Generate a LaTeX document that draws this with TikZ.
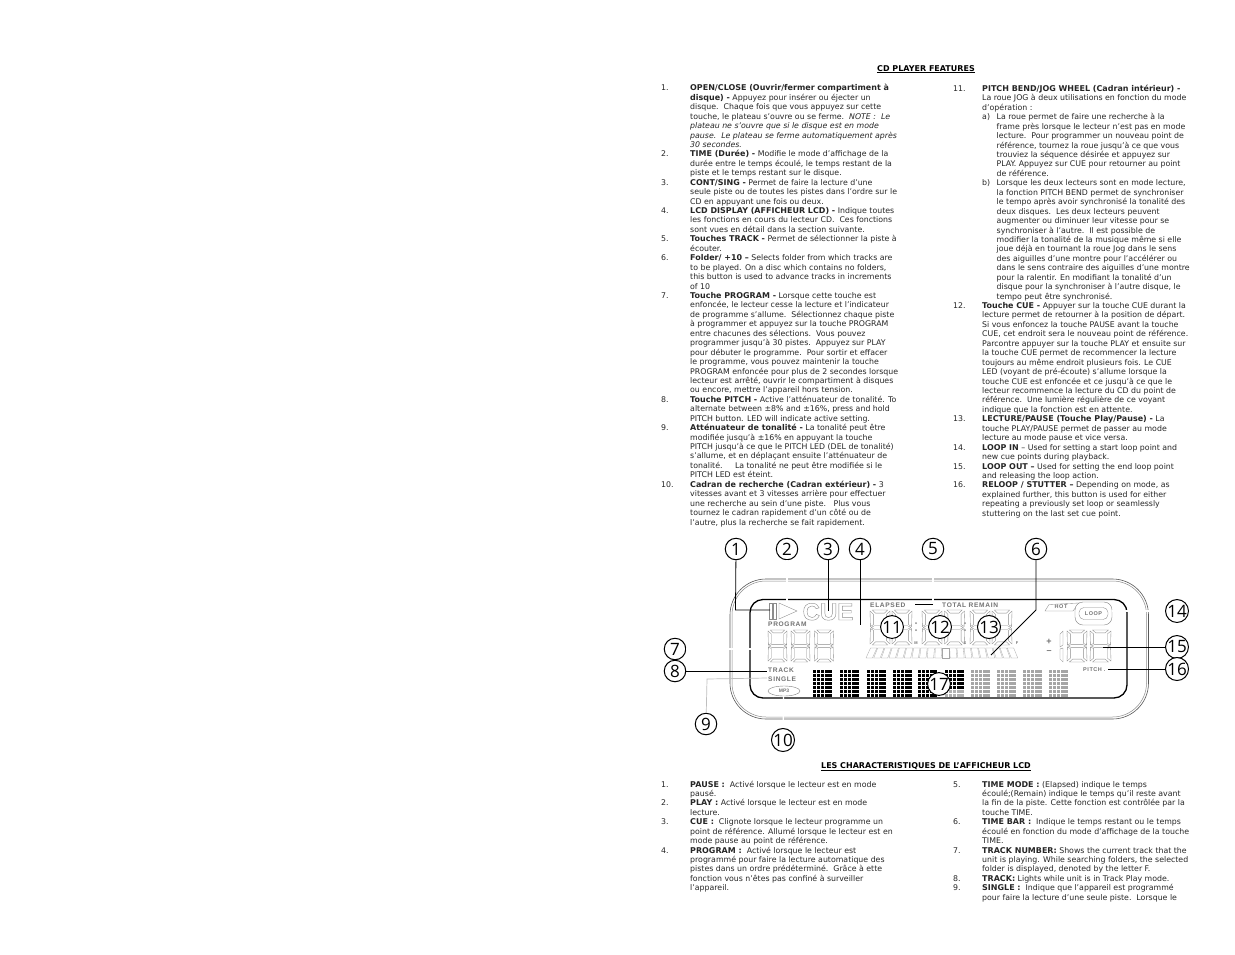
\documentclass[tikz,border=0pt]{standalone}
\usetikzlibrary{shapes.geometric}
\usepackage{fontspec}
\setmainfont[BoldFeatures={Scale=1.02}]{DejaVu Sans}
\newfontfamily\numfont{Open Sans}
\newfontfamily\lcdfont[LetterSpace=10]{Liberation Sans}
\newfontfamily\cuefont{Liberation Sans}
\newcounter{tn}
\def\ybase{88}
\newcommand\tl[3]{\pgfmathsetmacro\yy{\ybase+#2*9.44}\stepcounter{tn}\node[txt] (t\arabic{tn}) at (#1,\yy) {#3};}
\newcommand\sevenseg[4]{\begin{scope}[shift={(#1,#2)},x=#3pt,y=-#4pt,seg]
\draw (.12,0)--(.88,0)--(.72,.09)--(.28,.09)--cycle;
\draw (.12,1)--(.88,1)--(.72,.91)--(.28,.91)--cycle;
\draw (.06,.5)--(.22,.45)--(.78,.45)--(.94,.5)--(.78,.55)--(.22,.55)--cycle;
\draw (0,.03)--(.17,.12)--(.17,.42)--(.02,.47)--cycle;
\draw (1,.03)--(.83,.12)--(.83,.42)--(.98,.47)--cycle;
\draw (0,.97)--(.17,.88)--(.17,.58)--(.02,.53)--cycle;
\draw (1,.97)--(.83,.88)--(.83,.58)--(.98,.53)--cycle;
\end{scope}}
\newcommand\dotblock[4]{\begin{scope}[shift={(#1,670)}]
\foreach \c in {0,...,4}{\foreach \r in {0,...,6}{
\pgfmathsetmacro\cx{\c*3.85}\pgfmathsetmacro\cy{\r*3.95}
\pgfmathtruncatemacro\isb{\r<#3?1:0}
\ifnum\isb=1 \fill[#2] (\cx,\cy) rectangle ++(3.2,3.3);\else \fill[#4] (\cx,\cy) rectangle ++(3.2,3.3);\fi
}}\end{scope}}
\tikzset{
 txt/.style={anchor=base west,inner sep=0pt,text=black!85,font=\fontsize{7.83}{9}\selectfont},
 head/.style={anchor=base,inner sep=0pt,font=\fontsize{7.83}{9}\selectfont\bfseries},
 numc/.style={circle,draw=black,fill=white,line width=1pt,minimum size=21.5pt,inner sep=0pt,font=\fontsize{17}{17}\selectfont\numfont},
 lead/.style={black,line width=.8pt},
 wlead/.style={white,line width=1.2pt},
 glead/.style={black!25,line width=.7pt},
 seg/.style={draw=black!45,line width=.35pt},
 barseg/.style={draw=black!35,line width=.3pt},
 lcd/.style={inner sep=0pt,text=black!55,font=\fontsize{6.6}{6.6}\selectfont\lcdfont\bfseries},
 lcdtiny/.style={inner sep=0pt,text=black!55,font=\fontsize{4}{4}\selectfont\cuefont\bfseries},
}
\begin{document}
\begin{tikzpicture}[x=1pt,y=-1pt]
\useasboundingbox[fill=white] (0,0) rectangle (1235,954);
% headings
\node[head] (h1) at (926,71) {\underline{CD PLAYER FEATURES}};
\node[head] (h2) at (926,768) {\underline{LES CHARACTERISTIQUES DE L’AFFICHEUR LCD}};
% column 1
\def\ybase{90.8}
\def\nx{661}\def\tx{690}
\tl\nx{0}{1.}\tl\tx{0}{\textbf{OPEN/CLOSE (Ouvrir/fermer compartiment à}}
\tl\tx{1}{\textbf{disque) -} Appuyez pour insérer ou éjecter un}
\tl\tx{2}{disque.\ \ Chaque fois que vous appuyez sur cette}
\tl\tx{3}{touche, le plateau s’ouvre ou se ferme.\ \ \textit{NOTE :\ \ Le}}
\tl\tx{4}{\textit{plateau ne s’ouvre que si le disque est en mode}}
\tl\tx{5}{\textit{pause.\ \ Le plateau se ferme automatiquement après}}
\tl\tx{6}{\textit{30 secondes.}}
\tl\nx{7}{2.}\tl\tx{7}{\textbf{TIME (Durée) -} Modifie le mode d’affichage de la}
\tl\tx{8}{durée entre le temps écoulé, le temps restant de la}
\tl\tx{9}{piste et le temps restant sur le disque.}
\tl\nx{10}{3.}\tl\tx{10}{\textbf{CONT/SING -} Permet de faire la lecture d’une}
\tl\tx{11}{seule piste ou de toutes les pistes dans l’ordre sur le}
\tl\tx{12}{CD en appuyant une fois ou deux.}
\tl\nx{13}{4.}\tl\tx{13}{\textbf{LCD DISPLAY (AFFICHEUR LCD) -} Indique toutes}
\tl\tx{14}{les fonctions en cours du lecteur CD.\ \ Ces fonctions}
\tl\tx{15}{sont vues en détail dans la section suivante.}
\tl\nx{16}{5.}\tl\tx{16}{\textbf{Touches TRACK -} Permet de sélectionner la piste à}
\tl\tx{17}{écouter.}
\tl\nx{18}{6.}\tl\tx{18}{\textbf{Folder/ +10 –} Selects folder from which tracks are}
\tl\tx{19}{to be played. On a disc which contains no folders,}
\tl\tx{20}{this button is used to advance tracks in increments}
\tl\tx{21}{of 10}
\tl\nx{22}{7.}\tl\tx{22}{\textbf{Touche PROGRAM -} Lorsque cette touche est}
\tl\tx{23}{enfoncée, le lecteur cesse la lecture et l’indicateur}
\tl\tx{24}{de programme s’allume.\ \ Sélectionnez chaque piste}
\tl\tx{25}{à programmer et appuyez sur la touche PROGRAM}
\tl\tx{26}{entre chacunes des sélections.\ \ Vous pouvez}
\tl\tx{27}{programmer jusqu’à 30 pistes.\ \ Appuyez sur PLAY}
\tl\tx{28}{pour débuter le programme.\ \ Pour sortir et effacer}
\tl\tx{29}{le programme, vous pouvez maintenir la touche}
\tl\tx{30}{PROGRAM enfoncée pour plus de 2 secondes lorsque}
\tl\tx{31}{lecteur est arrêté, ouvrir le compartiment à disques}
\tl\tx{32}{ou encore, mettre l’appareil hors tension.}
\tl\nx{33}{8.}\tl\tx{33}{\textbf{Touche PITCH -} Active l’atténuateur de tonalité. To}
\tl\tx{34}{alternate between ±8\% and ±16\%, press and hold}
\tl\tx{35}{PITCH button. LED will indicate active setting.}
\tl\nx{36}{9.}\tl\tx{36}{\textbf{Atténuateur de tonalité -} La tonalité peut être}
\tl\tx{37}{modifiée jusqu’à ±16\% en appuyant la touche}
\tl\tx{38}{PITCH jusqu’à ce que le PITCH LED (DEL de tonalité)}
\tl\tx{39}{s’allume, et en déplaçant ensuite l’atténuateur de}
\tl\tx{40}{tonalité.\ \ \ \ \ La tonalité ne peut être modifiée si le}
\tl\tx{41}{PITCH LED est éteint.}
\tl\nx{42}{10.}\tl\tx{42}{\textbf{Cadran de recherche (Cadran extérieur) -} 3}
\tl\tx{43}{vitesses avant et 3 vitesses arrière pour effectuer}
\tl\tx{44}{une recherche au sein d’une piste.\ \ \ Plus vous}
\tl\tx{45}{tournez le cadran rapidement d’un côté ou de}
\tl\tx{46}{l’autre, plus la recherche se fait rapidement.}
% column 2
\def\ybase{91.4}
\def\nx{953}\def\tx{982}\def\sx{996.5}
\tl\nx{0}{11.}\tl\tx{0}{\textbf{PITCH BEND/JOG WHEEL (Cadran intérieur) -}}
\tl\tx{1}{La roue JOG à deux utilisations en fonction du mode}
\tl\tx{2}{d’opération :}
\tl\tx{3}{a)}\tl\sx{3}{La roue permet de faire une recherche à la}
\tl\sx{4}{frame près lorsque le lecteur n’est pas en mode}
\tl\sx{5}{lecture.\ \ Pour programmer un nouveau point de}
\tl\sx{6}{référence, tournez la roue jusqu’à ce que vous}
\tl\sx{7}{trouviez la séquence désirée et appuyez sur}
\tl\sx{8}{PLAY. Appuyez sur CUE pour retourner au point}
\tl\sx{9}{de référence.}
\tl\tx{10}{b)}\tl\sx{10}{Lorsque les deux lecteurs sont en mode lecture,}
\tl\sx{11}{la fonction PITCH BEND permet de synchroniser}
\tl\sx{12}{le tempo après avoir synchronisé la tonalité des}
\tl\sx{13}{deux disques.\ \ Les deux lecteurs peuvent}
\tl\sx{14}{augmenter ou diminuer leur vitesse pour se}
\tl\sx{15}{synchroniser à l’autre.\ \ Il est possible de}
\tl\sx{16}{modifier la tonalité de la musique même si elle}
\tl\sx{17}{joue déjà en tournant la roue Jog dans le sens}
\tl\sx{18}{des aiguilles d’une montre pour l’accélérer ou}
\tl\sx{19}{dans le sens contraire des aiguilles d’une montre}
\tl\sx{20}{pour la ralentir. En modifiant la tonalité d’un}
\tl\sx{21}{disque pour la synchroniser à l’autre disque, le}
\tl\sx{22}{tempo peut être synchronisé.}
\tl\nx{23}{12.}\tl\tx{23}{\textbf{Touche CUE -} Appuyer sur la touche CUE durant la}
\tl\tx{24}{lecture permet de retourner à la position de départ.}
\tl\tx{25}{Si vous enfoncez la touche PAUSE avant la touche}
\tl\tx{26}{CUE, cet endroit sera le nouveau point de référence.}
\tl\tx{27}{Parcontre appuyer sur la touche PLAY et ensuite sur}
\tl\tx{28}{la touche CUE permet de recommencer la lecture}
\tl\tx{29}{toujours au même endroit plusieurs fois. Le CUE}
\tl\tx{30}{LED (voyant de pré-écoute) s’allume lorsque la}
\tl\tx{31}{touche CUE est enfoncée et ce jusqu’à ce que le}
\tl\tx{32}{lecteur recommence la lecture du CD du point de}
\tl\tx{33}{référence.\ \ Une lumière régulière de ce voyant}
\tl\tx{34}{indique que la fonction est en attente.}
\tl\nx{35}{13.}\tl\tx{35}{\textbf{LECTURE/PAUSE (Touche Play/Pause) -} La}
\tl\tx{36}{touche PLAY/PAUSE permet de passer au mode}
\tl\tx{37}{lecture au mode pause et vice versa.}
\tl\nx{38}{14.}\tl\tx{38}{\textbf{LOOP IN} – Used for setting a start loop point and}
\tl\tx{39}{new cue points during playback.}
\tl\nx{40}{15.}\tl\tx{40}{\textbf{LOOP OUT –} Used for setting the end loop point}
\tl\tx{41}{and releasing the loop action.}
\tl\nx{42}{16.}\tl\tx{42}{\textbf{RELOOP / STUTTER –} Depending on mode, as}
\tl\tx{43}{explained further, this button is used for either}
\tl\tx{44}{repeating a previously set loop or seamlessly}
\tl\tx{45}{stuttering on the last set cue point.}
% bottom lists
\def\ybase{787}
\def\nx{661}\def\tx{690}
\tl\nx{0}{1.}\tl\tx{0}{\textbf{PAUSE :}\ \ Activé lorsque le lecteur est en mode}
\tl\tx{1}{pausé.}
\tl\nx{2}{2.}\tl\tx{2}{\textbf{PLAY :} Activé lorsque le lecteur est en mode}
\tl\tx{3}{lecture.}
\tl\nx{4}{3.}\tl\tx{4}{\textbf{CUE :}\ \ Clignote lorsque le lecteur programme un}
\tl\tx{5}{point de référence. Allumé lorsque le lecteur est en}
\tl\tx{6}{mode pause au point de référence.}
\tl\nx{7}{4.}\tl\tx{7}{\textbf{PROGRAM :}\ \ Activé lorsque le lecteur est}
\tl\tx{8}{programmé pour faire la lecture automatique des}
\tl\tx{9}{pistes dans un ordre prédéterminé.\ \ Grâce à ette}
\tl\tx{10}{fonction vous n’êtes pas confiné à surveiller}
\tl\tx{11}{l’appareil.}
\def\nx{953}\def\tx{982}
\tl\nx{0}{5.}\tl\tx{0}{\textbf{TIME MODE :} (Elapsed) indique le temps}
\tl\tx{1}{écoulé;(Remain) indique le temps qu’il reste avant}
\tl\tx{2}{la fin de la piste. Cette fonction est contrôlée par la}
\tl\tx{3}{touche TIME.}
\tl\nx{4}{6.}\tl\tx{4}{\textbf{TIME BAR :}\ \ Indique le temps restant ou le temps}
\tl\tx{5}{écoulé en fonction du mode d’affichage de la touche}
\tl\tx{6}{TIME.}
\tl\nx{7}{7.}\tl\tx{7}{\textbf{TRACK NUMBER:} Shows the current track that the}
\tl\tx{8}{unit is playing. While searching folders, the selected}
\tl\tx{9}{folder is displayed, denoted by the letter F.}
\tl\nx{10}{8.}\tl\tx{10}{\textbf{TRACK:} Lights while unit is in Track Play mode.}
\tl\nx{11}{9.}\tl\tx{11}{\textbf{SINGLE :}\ \ Indique que l’appareil est programmé}
\tl\tx{12}{pour faire la lecture d’une seule piste.\ \ Lorsque le}
% frames
\draw[black!65,line width=.6pt,rounded corners=36pt] (730,579) rectangle (1148.5,719);
\draw[black!45,line width=.5pt,rounded corners=34pt] (732,581) rectangle (1146.5,717);
\draw[black,line width=1.3pt,rounded corners=13pt] (750,599.5) rectangle (1127,698);
% LCD: pause, play, CUE
\draw[seg] (769,603) rectangle (772,619) (773.5,603) rectangle (776.5,619);
\draw[seg] (779,603)--(797,611)--(779,619)--cycle;
\node[inner sep=0pt,anchor=base] (cue) at (828,620) {\fontsize{24}{24}\selectfont\cuefont\bfseries\special{pdf:code q 1 Tr 0.4 w 0.55 G}CUE\special{pdf:code Q}};
\node[lcd,anchor=west] (prog) at (768,624) {PROGRAM};
\node[lcd,anchor=west] (track) at (768,670) {TRACK};
\node[lcd,anchor=west] (single) at (768,679) {SINGLE};
\node[lcd,draw=black!50,line width=.4pt,ellipse,anchor=center,minimum width=32pt,minimum height=10pt,inner sep=0pt,font=\fontsize{5}{5}\selectfont\cuefont\bfseries] (mp3) at (784,691) {MP3};
\node[lcd,anchor=west] (elapsed) at (870,605) {ELAPSED};
\node[lcd,anchor=west] (total) at (942,605) {TOTAL REMAIN};
% digits
\sevenseg{768}{630}{19}{32}\sevenseg{791}{630}{19}{32}\sevenseg{814.5}{630}{19}{32}
\sevenseg{870}{610}{20}{35}\sevenseg{892}{610}{20}{35}
\sevenseg{922}{610}{20}{35}\sevenseg{944.5}{610}{20}{35}
\sevenseg{970}{610}{20}{35}\sevenseg{992}{610}{20}{35}
\fill[black!45] (916,623) circle (1) (916,630) circle (1) (965,623) circle (1) (965,630) circle (1);
\node[lcdtiny] (mlab) at (916,643) {M};
\node[lcdtiny] (slab) at (965,643) {S};
\node[lcdtiny] (flab) at (1017,643) {F};
% time bar
\foreach \i in {0,...,19}{
 \pgfmathsetmacro\bx{866+7.65*\i}\pgfmathsetmacro\sh{(10-\i)*.45}
 \draw[barseg] (\bx,658)--(\bx+6.4,658)--(\bx+6.4+\sh,648)--(\bx+\sh,648)--cycle;
}
% dot matrix
\foreach \x in {813,840,867,893,918}{\dotblock{\x}{black}{7}{black}}
\dotblock{945}{black}{5}{black!30}
\foreach \x in {971,997,1023,1049}{\dotblock{\x}{black!35}{7}{black!35}}
% right side
\node[lcd,anchor=center,font=\fontsize{5.5}{5.5}\selectfont\lcdfont\bfseries] (hot) at (1061,607) {HOT};
\draw[seg] (1045,611)--(1049,604.5)--(1079,603)--(1073,611)--cycle;
\node[lcd,draw=black!50,line width=.4pt,rounded corners=8pt,minimum width=37pt,minimum height=23pt,fill=white,anchor=center,font=\fontsize{5.5}{5.5}\selectfont\lcdfont\bfseries] (loop) at (1093.5,613.5) {LOOP};
\draw[seg,rounded corners=5pt] (1079,607.5) rectangle (1108,619.5);
\node[inner sep=0pt,text=black!55,font=\fontsize{9}{9}\selectfont\cuefont\bfseries] (plus) at (1049,642) {+};
\node[inner sep=0pt,text=black!55,font=\fontsize{9}{9}\selectfont\cuefont\bfseries] (minus) at (1049,652) {–};
\draw[seg] (1060,634)--(1063,631)--(1063,645)--(1060,647)--cycle (1060,649)--(1063,648)--(1063,662)--(1060,659)--cycle;
\sevenseg{1067}{630}{20}{32}\sevenseg{1090}{630}{21}{32}
\node[lcd,anchor=west,font=\fontsize{5.5}{5.5}\selectfont\lcdfont\bfseries] (pitch) at (1083,670) {PITCH .};
% circled numbers
\foreach \n/\a/\b in {1/736/549,2/787/549,3/828/549,4/860/549,5/933/549,6/1036/549,7/675/649,8/675/671,9/706/724,10/783/740,11/892/627,12/940/627,13/989/627,14/1177/611,15/1177/647,16/1177/669,17/939/684}{
 \node[numc] (n\n) at (\a,\b) {\n};
}
% leader ends
\coordinate (c1a) at (735.5,610);\coordinate (c1b) at (770,610);
\coordinate (c2) at (787,603);
\coordinate (c3) at (828,611);
\coordinate (c4) at (860,625);
\coordinate (c5) at (933,604);\coordinate (c5b) at (915,604);
\coordinate (c6a) at (1036,610);\coordinate (c6b) at (991,655);
\coordinate (c7) at (762,649);
\coordinate (c8) at (767,671);
\coordinate (c9a) at (707,679);\coordinate (c9b) at (767,678);
\coordinate (c10) at (783.5,696);
\coordinate (c14) at (1112,611);
\coordinate (c15) at (1103,647);
\coordinate (c16) at (1108,669);
% leaders
\draw[wlead] (n2) -- (c2);
\draw[wlead] (n5) -- (c5);
\draw[wlead] (n7) -- (c7);
\draw[wlead] (n10) -- (c10);
\draw[wlead] (n14) -- (c14);
\draw[lead] (n1) -- (c1a) -- (c1b);
\draw[lead] (n3) -- (c3);
\draw[lead] (n4) -- (c4);
\draw[lead] (c5) -- (c5b);
\draw[lead] (n6) -- (c6a) -- (c6b);
\draw[lead] (n8) -- (c8);
\draw[glead] (n9) -- (c9a) -- (c9b);
\draw[lead] (n15) -- (c15);
\draw[lead] (n16) -- (c16);
\end{tikzpicture}
\end{document}
